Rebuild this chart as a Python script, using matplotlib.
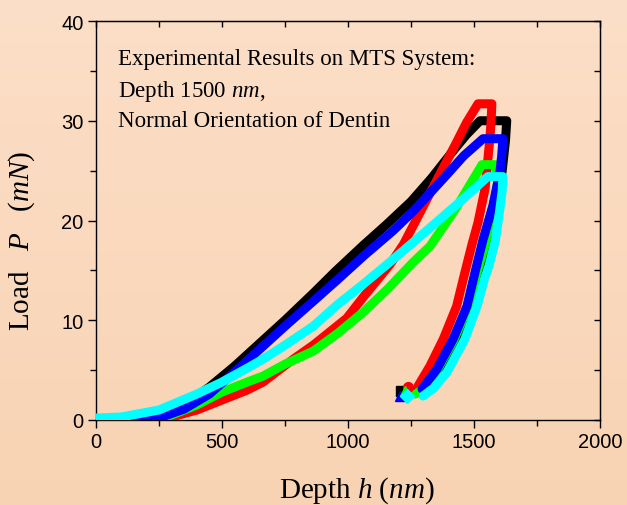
import matplotlib.pyplot as plt
import matplotlib as mpl
import numpy as np

plt.rcParams['font.family'] = 'Liberation Sans'
plt.rcParams['mathtext.fontset'] = 'custom'
plt.rcParams['mathtext.rm'] = 'Liberation Serif'
plt.rcParams['mathtext.it'] = 'Liberation Serif:italic'

# loading - hold - unloading curves (depth nm, load mN)
h_black = [0, 150, 250, 350, 450, 550, 650, 750, 862, 950, 1060, 1153, 1250, 1330, 1405, 1470, 1524,
           1630, 1625, 1612, 1590, 1560, 1530, 1495, 1440, 1375, 1310, 1268]
P_black = [0, 0, 0.3, 1.5, 3.3, 5.4, 7.7, 10.0, 12.7, 14.9, 17.5, 19.6, 21.9, 24.2, 26.6, 28.6, 30.0,
           30.0, 28.0, 25.0, 21.5, 18.0, 14.8, 11.4, 8.1, 5.1, 3.3, 2.8]

h_red = [0, 200, 300, 400, 500, 600, 663, 783, 862, 995, 1060, 1167, 1220, 1290, 1378, 1430, 1470, 1516,
         1571, 1568, 1563, 1544, 1516, 1492, 1464, 1431, 1378, 1325, 1278]
P_red = [0, 0, 0.3, 1.0, 2.0, 3.0, 3.8, 6.1, 7.5, 10.2, 12.3, 15.6, 17.6, 21.0, 25.3, 27.8, 29.8, 31.7,
         31.7, 30.0, 28.2, 23.2, 19.8, 17.6, 14.8, 11.4, 8.1, 5.4, 3.4]

h_blue = [0, 150, 250, 350, 450, 500, 563, 663, 750, 862, 960, 1060, 1180, 1258, 1378, 1460, 1536,
          1615, 1610, 1603, 1575, 1535, 1504, 1472, 1417, 1353, 1294]
P_blue = [0, 0, 0.2, 1.1, 2.6, 3.7, 5.1, 7.4, 9.4, 11.9, 14.1, 16.4, 19.0, 20.9, 24.2, 26.5, 28.2,
          28.2, 26.5, 24.9, 21.5, 18.0, 14.8, 11.4, 8.1, 5.1, 3.1]

h_green = [0, 200, 300, 400, 500, 600, 663, 750, 862, 960, 1060, 1160, 1258, 1325, 1430, 1532,
           1583, 1595, 1580, 1547, 1510, 1476, 1420, 1354, 1294, 1266]
P_green = [0, 0, 0.5, 1.5, 2.8, 3.8, 4.4, 5.6, 6.9, 8.7, 10.8, 13.2, 15.8, 17.4, 21.3, 25.6,
           25.6, 24.0, 21.5, 17.8, 14.6, 11.3, 8.0, 5.0, 3.0, 2.6]

h_cyan = [0, 100, 250, 400, 500, 600, 663, 750, 862, 960, 1060, 1160, 1258, 1350, 1450, 1520, 1555,
          1615, 1612, 1603, 1585, 1560, 1540, 1512, 1464, 1393, 1340, 1298]
P_cyan = [0.2, 0.3, 1.0, 2.6, 3.8, 5.2, 6.1, 7.5, 9.4, 11.6, 13.6, 15.7, 17.8, 19.8, 22.0, 23.6, 24.4,
          24.4, 23.0, 21.2, 18.0, 15.5, 14.0, 11.4, 8.1, 4.8, 3.2, 2.4]

# isolated last points
end_h = [1210, 1238, 1228, 1206, 1233]
end_P = [2.9, 3.3, 2.9, 2.4, 2.4]

series = [(h_black, P_black, 'black', 's'), (h_red, P_red, 'red', 'o'),
          (h_green, P_green, 'lime', '^'), (h_blue, P_blue, 'blue', '^'),
          (h_cyan, P_cyan, 'cyan', 'D')]
end_order = [0, 1, 3, 2, 4]

fig = plt.figure(figsize=(6.27, 5.06), dpi=100)

# background gradient
bg = fig.add_axes([0, 0, 1, 1], zorder=-5)
grad = np.linspace(0, 1, 256).reshape(-1, 1)
cmap = mpl.colors.LinearSegmentedColormap.from_list('bg', ['#FCDFC8', '#F8D3B3'])
bg.imshow(grad, aspect='auto', cmap=cmap, extent=[0, 1, 0, 1])
bg.axis('off')

ax = fig.add_axes([0.1531, 0.168, 0.8038, 0.7885])
ax.patch.set_alpha(0)

for i, (h, P, c, m) in enumerate(series):
    ax.plot(h, P, color=c, lw=6.5, solid_capstyle='round', solid_joinstyle='round', zorder=2 + i)
for k, j in enumerate(end_order):
    ax.plot(end_h[j], end_P[j], marker=series[j][3], color=series[j][2], ms=7, ls='none', zorder=10 + k)

ax.set_xlim(0, 2000)
ax.set_ylim(0, 40)
ax.set_xticks([0, 500, 1000, 1500, 2000])
ax.set_yticks([0, 10, 20, 30, 40])
ax.xaxis.set_minor_locator(mpl.ticker.MultipleLocator(250))
ax.yaxis.set_minor_locator(mpl.ticker.MultipleLocator(5))
ax.tick_params(which='major', direction='out', length=6, width=1, labelsize=14.5, pad=3)
ax.tick_params(which='minor', direction='out', length=4, width=1)
for s in ax.spines.values():
    s.set_linewidth(1)

top = ax.secondary_xaxis('top')
top.set_xticks([0, 500, 1000, 1500, 2000])
top.xaxis.set_minor_locator(mpl.ticker.MultipleLocator(250))
top.tick_params(which='both', direction='in', length=4, width=1, labeltop=False)
right = ax.secondary_yaxis('right')
right.set_yticks([0, 10, 20, 30, 40])
right.yaxis.set_minor_locator(mpl.ticker.MultipleLocator(5))
right.tick_params(which='both', direction='in', length=4, width=1, labelright=False)

ax.set_xlabel(r'$\mathrm{Depth}\ h\ \mathrm{(}nm\mathrm{)}$', fontsize=21, va='baseline')
ax.xaxis.set_label_coords(0.518, -0.193)
ax.set_ylabel(r'$\mathrm{Load}\ \ \ P\ \ \ \mathrm{(}mN\mathrm{)}$', fontsize=21, va='center')
ax.yaxis.set_label_coords(-0.147, 0.451)

txt = dict(transform=ax.transAxes, fontsize=16.5, family='Liberation Serif', va='baseline')
ax.text(0.043, 0.892, 'Experimental Results on MTS System:', **txt)
ax.text(0.043, 0.812, r'Depth 1500 $nm$,', **txt)
ax.text(0.043, 0.737, 'Normal Orientation of Dentin', **txt)

plt.savefig('out.png', dpi=100)
